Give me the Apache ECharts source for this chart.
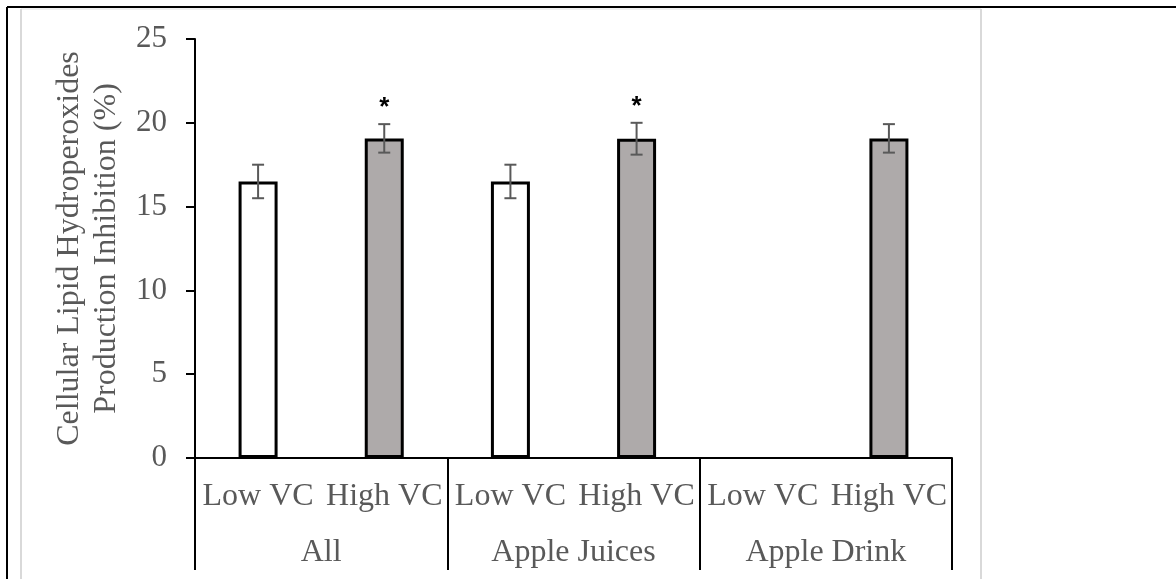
<!DOCTYPE html>
<html>
<head>
<meta charset="utf-8">
<title>Cellular Lipid Hydroperoxides Production Inhibition</title>
<script src="https://cdn.jsdelivr.net/npm/echarts@6/dist/echarts.min.js"></script>
<style>
  html, body { margin: 0; padding: 0; background: #fff; }
  #chart { width: 1176px; height: 579px; }
</style>
</head>
<body>
<div id="chart"></div>
<script>
// data
const categories = ['Low VC', 'High VC', 'Low VC', 'High VC', 'Low VC', 'High VC'];
const groups = ['All', 'Apple Juices', 'Apple Drink'];
const values = [16.5, 19.07, 16.5, 19.05, null, 19.07];
const errors = [1.0, 0.85, 1.0, 0.95, null, 0.85];
const stars = ['', '*', '', '*', '', ''];
const yMin = 0, yMax = 25, yStep = 5;

const font = 'Liberation Serif';
const grey = '#595959';

const chart = echarts.init(document.getElementById('chart'));

const barData = values.map((v, i) => v == null ? '-' : {
  value: v,
  itemStyle: { color: i % 2 ? '#AEAAAA' : '#FFFFFF' }
});
const errData = [];
values.forEach((v, i) => {
  if (v != null) errData.push([i, v, errors[i], stars[i]]);
});

const option = {
  backgroundColor: '#fff',
  animation: false,
  grid: { left: 195, right: 224, top: 39, bottom: 121 },
  xAxis: [
    {
      type: 'category',
      data: categories,
      axisLine: { lineStyle: { color: '#000', width: 2 } },
      axisTick: { show: false },
      axisLabel: { interval: 0, margin: 23, color: grey, fontFamily: font, fontSize: 32 }
    },
    {
      type: 'category',
      data: groups,
      position: 'bottom',
      axisLine: { show: false },
      axisTick: { show: true, length: 112, lineStyle: { color: '#000', width: 2 } },
      axisLabel: { interval: 0, margin: 79, color: grey, fontFamily: font, fontSize: 32 }
    }
  ],
  yAxis: {
    type: 'value',
    min: yMin,
    max: yMax,
    interval: yStep,
    name: 'Cellular Lipid Hydroperoxides\nProduction Inhibition (%)',
    nameLocation: 'middle',
    nameGap: 60,
    nameTextStyle: { color: grey, fontFamily: font, fontSize: 32, lineHeight: 37 },
    axisLine: { show: true, lineStyle: { color: '#000', width: 2 } },
    axisTick: { show: true, length: 9, lineStyle: { color: '#000', width: 2 } },
    splitLine: { show: false },
    axisLabel: { margin: 28, color: grey, fontFamily: font, fontSize: 31 }
  },
  series: [
    {
      type: 'bar',
      data: barData,
      barWidth: 39,
      itemStyle: { borderColor: '#000', borderWidth: 3 }
    },
    {
      type: 'custom',
      data: errData,
      encode: { x: 0, y: 1 },
      z: 5,
      renderItem: function (params, api) {
        const i = api.value(0);
        const v = api.value(1);
        const e = api.value(2);
        const star = errData[params.dataIndex][3];
        const top = api.coord([i, v + e]);
        const bot = api.coord([i, v - e]);
        const cap = 6;
        const st = { stroke: grey, lineWidth: 2 };
        const children = [
          { type: 'line', shape: { x1: top[0], y1: top[1], x2: bot[0], y2: bot[1] }, style: st },
          { type: 'line', shape: { x1: top[0] - cap, y1: top[1], x2: top[0] + cap, y2: top[1] }, style: st },
          { type: 'line', shape: { x1: bot[0] - cap, y1: bot[1], x2: bot[0] + cap, y2: bot[1] }, style: st }
        ];
        if (star) {
          children.push({
            type: 'text',
            style: {
              text: star, x: top[0], y: top[1] - 16,
              align: 'center', verticalAlign: 'middle',
              fill: '#000', font: 'bold 26px "Liberation Sans"'
            }
          });
        }
        return { type: 'group', children: children };
      }
    }
  ],
  graphic: [
    { type: 'line', shape: { x1: 21, y1: 9, x2: 981, y2: 9 }, style: { stroke: '#E3E3E3', lineWidth: 1 } },
    { type: 'line', shape: { x1: 21, y1: 9, x2: 21, y2: 579 }, style: { stroke: '#D9D9D9', lineWidth: 2 } },
    { type: 'line', shape: { x1: 981, y1: 9, x2: 981, y2: 579 }, style: { stroke: '#D9D9D9', lineWidth: 2 } },
    { type: 'line', shape: { x1: 7, y1: 7, x2: 1176, y2: 7 }, style: { stroke: '#000', lineWidth: 2 } },
    { type: 'line', shape: { x1: 7, y1: 7, x2: 7, y2: 579 }, style: { stroke: '#000', lineWidth: 2 } }
  ]
};

chart.setOption(option);
</script>
</body>
</html>
